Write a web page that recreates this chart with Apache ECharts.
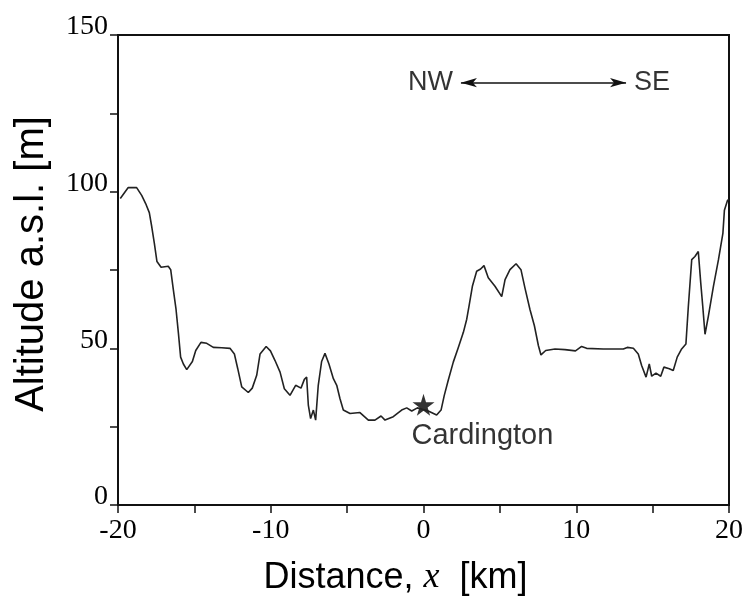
<!DOCTYPE html>
<html>
<head>
<meta charset="utf-8">
<script src="https://cdn.jsdelivr.net/npm/echarts@6/dist/echarts.min.js"></script>
<style>
  html, body { margin: 0; padding: 0; background: #fff; }
  #chart { width: 746px; height: 601px; }
</style>
</head>
<body>
<div id="chart"></div>
<script>
// terrain profile: distance [km] and altitude [m]
var distance = [
    -19.85, -19.33, -18.78, -18.45, -18.19, -17.95, -17.79, -17.62, -17.45, -17.18,
    -16.71, -16.55, -16.38, -16.20, -16.05, -15.90, -15.72, -15.50, -15.13, -14.91,
    -14.57, -14.19, -13.76, -13.21, -12.67, -12.38, -12.16, -11.90, -11.47, -11.21,
    -10.92, -10.70, -10.30, -10.02, -9.72, -9.39, -9.11, -8.74, -8.37, -8.02,
    -7.80, -7.65, -7.54, -7.39, -7.21, -7.06, -6.89, -6.67, -6.45, -6.19,
    -5.90, -5.68, -5.47, -5.25, -4.81, -4.16, -3.61, -3.18, -2.78, -2.52,
    -1.98, -1.43, -1.10, -0.77, -0.40, 0.31, 0.86, 1.15, 1.36, 1.62,
    1.95, 2.28, 2.61, 2.83, 2.98, 3.20, 3.48, 3.74, 3.96, 4.24,
    4.68, 5.12, 5.34, 5.66, 6.06, 6.38, 6.64, 6.97, 7.26, 7.52,
    7.69, 8.00, 8.61, 9.26, 9.95, 10.35, 10.68, 11.77, 13.08, 13.34,
    13.74, 14.06, 14.28, 14.57, 14.78, 14.94, 15.22, 15.53, 15.74, 16.09,
    16.35, 16.61, 16.90, 17.18, 17.34, 17.56, 17.77, 17.99, 18.15, 18.28,
    18.43, 18.65, 18.98, 19.31, 19.60, 19.70, 19.90, 20.0
];
var altitude = [
    97.8, 101.3, 101.3, 98.8, 96.2, 93.3, 88.8, 83.5, 77.7, 75.9,
    76.2, 75.1, 68.8, 62.4, 55.1, 47.2, 45.0, 43.2, 45.8, 49.3,
    51.9, 51.6, 50.3, 50.2, 50.0, 48.2, 43.5, 37.7, 35.9, 37.3,
    41.4, 48.2, 50.6, 49.2, 46.1, 42.4, 37.1, 35.0, 38.2, 37.3,
    40.1, 40.8, 31.9, 27.6, 30.3, 27.1, 38.2, 45.8, 48.4, 45.0,
    40.3, 38.2, 34.0, 30.3, 29.2, 29.5, 27.1, 27.1, 28.4, 27.1,
    28.2, 30.3, 31.0, 30.0, 31.0, 30.0, 28.7, 30.3, 35.0, 39.8,
    45.6, 50.3, 55.1, 59.3, 63.5, 69.8, 74.6, 75.3, 76.4, 72.5,
    69.8, 66.5, 71.9, 75.1, 77.0, 75.1, 69.3, 62.4, 57.2, 50.9,
    47.9, 49.3, 49.8, 49.6, 49.2, 50.6, 50.0, 49.8, 49.8, 50.3,
    50.0, 48.2, 44.5, 40.8, 45.0, 41.1, 42.1, 41.1, 44.0, 43.5,
    42.9, 47.2, 49.8, 51.4, 63.5, 78.3, 79.3, 80.9, 70.9, 63.5,
    54.5, 60.3, 69.8, 78.3, 86.7, 94.1, 97.2, 97.5
];

// site marker and direction arrow (data units)
var site = [0, 32];
var siteName = 'Cardington';
var arrowFrom = [2.45, 134.8];
var arrowTo = [13.26, 134.8];
var dirLabels = ['NW', 'SE'];

var profile = [];
for (var i = 0; i < distance.length; i++) {
    profile.push([distance[i], altitude[i]]);
}

var starPath = 'path://M50,0 L61,35 L98,35 L68,57 L79,91 L50,70 L21,91 L32,57 L2,35 L39,35 Z';
var serif = '"Liberation Serif", "DejaVu Serif", serif';
var sans = '"Liberation Sans", Arial, sans-serif';

var myChart = echarts.init(document.getElementById('chart'));
var options = {
    backgroundColor: '#fff',
    animation: false,
    grid: {
        left: 118, top: 35, right: 17, bottom: 92,
        show: true,
        borderColor: '#111',
        borderWidth: 2
    },
    xAxis: {
        type: 'value',
        min: -20, max: 20, interval: 10,
        splitLine: { show: false },
        axisLine: { onZero: false, lineStyle: { color: '#111', width: 2 } },
        axisTick: { length: 8, lineStyle: { color: '#111', width: 1.5 } },
        minorTick: { show: true, splitNumber: 2, length: 8, lineStyle: { color: '#111', width: 1.5 } },
        axisLabel: { color: '#000', fontFamily: serif, fontSize: 28, margin: 12 },
        name: 'Distance, {i|x}  [km]',
        nameLocation: 'middle',
        nameGap: 55,
        nameTextStyle: {
            color: '#000', fontFamily: sans, fontSize: 36,
            padding: [0, 56, 0, 0],
            rich: { i: { fontFamily: serif, fontStyle: 'italic', fontSize: 36, color: '#000' } }
        }
    },
    yAxis: {
        type: 'value',
        min: 0, max: 150, interval: 50,
        splitLine: { show: false },
        axisLine: { onZero: false, lineStyle: { color: '#111', width: 2 } },
        axisTick: { length: 8, lineStyle: { color: '#111', width: 1.5 } },
        minorTick: { show: true, splitNumber: 2, length: 8, lineStyle: { color: '#111', width: 1.5 } },
        axisLabel: {
            color: '#000', fontFamily: serif, fontSize: 28, margin: 10,
            verticalAlign: 'bottom', lineHeight: 16
        },
        name: 'Altitude a.s.l. [m]',
        nameLocation: 'middle',
        nameGap: 66,
        nameTextStyle: { color: '#000', fontFamily: sans, fontSize: 40, padding: [0, 0, 0, 12] }
    },
    series: [{
        name: 'profile',
        type: 'line',
        data: profile,
        showSymbol: false,
        lineStyle: { color: '#222', width: 1.6 }
    }, {
        name: 'site',
        type: 'scatter',
        data: [site],
        symbol: starPath,
        symbolSize: 22,
        itemStyle: { color: '#000' },
        label: {
            show: true,
            formatter: siteName,
            position: [-1, 28],
            align: 'left',
            verticalAlign: 'top',
            color: '#000',
            fontFamily: sans,
            fontSize: 29
        }
    }, {
        name: 'direction',
        type: 'scatter',
        data: [
            { value: arrowFrom, label: { position: 'left', formatter: dirLabels[0] } },
            { value: arrowTo, label: { position: 'right', formatter: dirLabels[1] } }
        ],
        symbolSize: 0,
        label: { show: true, distance: 8, color: '#000', fontFamily: sans, fontSize: 27 },
        markLine: {
            silent: true,
            symbol: ['arrow', 'arrow'],
            symbolSize: [7, 16],
            lineStyle: { color: '#111', width: 1.5, type: 'solid' },
            label: { show: false },
            data: [[{ coord: arrowFrom }, { coord: arrowTo }]]
        }
    }]
};
myChart.setOption(options, true);
</script>
</body>
</html>
